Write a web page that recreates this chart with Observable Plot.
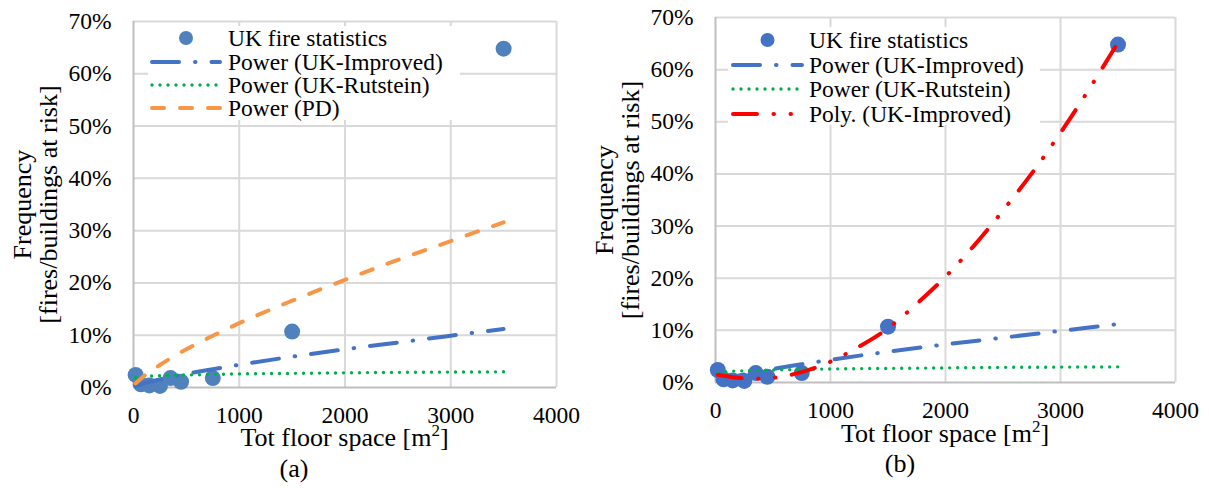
<!DOCTYPE html>
<html><head><meta charset="utf-8">
<script src="https://cdn.jsdelivr.net/npm/d3@7"></script>
<script src="https://cdn.jsdelivr.net/npm/@observablehq/plot@0.6"></script>
<style>
html,body{margin:0;padding:0;background:#fff;}
#wrap{position:relative;width:1209px;height:488px;overflow:hidden;}
#wrap svg{position:absolute;top:0;font-family:"Liberation Serif","Times New Roman",serif !important;}
#wrap svg text{font-family:"Liberation Serif","Times New Roman",serif !important;}
</style></head><body><div id="wrap"></div>
<script>
// ---- data ----
const xTicks = [0, 1000, 2000, 3000, 4000];
const xTickLabels = ["0", "1000", "2000", "3000", "4000"];
const yTicks = [0, 10, 20, 30, 40, 50, 60, 70];
const yTickLabels = ["0%", "10%", "20%", "30%", "40%", "50%", "60%", "70%"];

// UK fire statistics (floor space m2, frequency %)
const floorSpace = [20, 70, 150, 250, 350, 450, 750, 1500, 3500];
const fireFreq   = [2.4, 0.6, 0.4, 0.3, 1.8, 1.1, 1.8, 10.7, 64.8];

// trend lines
const trendX       = [20, 100, 250, 500, 750, 1000, 1500, 2000, 2500, 3000, 3500];
const powImproved  = [0.25, 0.8, 1.55, 2.6, 3.5, 4.35, 5.9, 7.3, 8.6, 9.9, 11.2];
const powRutstein  = [1.9, 2.1, 2.25, 2.4, 2.5, 2.6, 2.7, 2.8, 2.9, 2.95, 3.0];
const powPD        = [0.8, 2.2, 4.3, 7.3, 9.9, 12.3, 16.6, 20.6, 24.4, 28.0, 31.6];
const polyX        = [20, 100, 250, 400, 500, 750, 1000, 1250, 1500, 1750, 2000, 2250, 2500, 2750, 3000, 3250, 3500];
const polyImproved = [1.5, 1.2, 0.8, 0.7, 0.9, 2.0, 4.0, 6.9, 10.4, 15.1, 20.3, 26.3, 33.0, 40.1, 47.9, 56.3, 65.2];

const legendLabelsA = ["UK fire statistics", "Power (UK-Improved)", "Power (UK-Rutstein)", "Power (PD)"];
const legendLabelsB = ["UK fire statistics", "Power (UK-Improved)", "Power (UK-Rutstein)", "Poly. (UK-Improved)"];
const xTitle = "Tot floor space [m";
const yTitle = "Frequency\n[fires/buildings at risk]";
const captions = ["(a)", "(b)"];

// ---- helpers ----
const FONT = '"Liberation Serif","Times New Roman",serif';
const zip = (xs, ys) => xs.map((x, i) => ({x, y: ys[i]}));
const points = zip(floorSpace, fireFreq);

const STY = {
  improved: {stroke: "#4472c4", strokeWidth: 4, strokeDasharray: "27,16,0.5,16"},
  rutstein: {stroke: "#00b050", strokeWidth: 3.4, strokeDasharray: "0,8"},
  pd:       {stroke: "#f79646", strokeWidth: 4, strokeDasharray: "12,16"},
  poly:     {stroke: "#ff0000", strokeWidth: 4, strokeDasharray: "24,16.5,0.5,16.5,0.5,16.5"}
};

function panel(cfg) {
  const marks = [
    Plot.ruleY(yTicks.slice(1), {stroke: "#d9d9d9", strokeWidth: 2}),
    Plot.ruleX(xTicks.slice(1), {stroke: "#d9d9d9", strokeWidth: 2}),
    Plot.ruleY([0], {stroke: "#bfbfbf", strokeWidth: 2}),
    Plot.ruleX([0], {stroke: "#bfbfbf", strokeWidth: 2}),
    Plot.axisY(yTicks, {tickSize: 0, tickPadding: 22, fontSize: 23.5, fontFamily: FONT, label: null,
      tickFormat: d => yTickLabels[yTicks.indexOf(d)]}),
    Plot.axisX(xTicks, {tickSize: 0, tickPadding: 19, fontSize: 23.5, fontFamily: FONT, label: null,
      tickFormat: d => xTickLabels[xTicks.indexOf(d)]}),
    Plot.dot(points, {x: "x", y: "y", r: 8, fill: cfg.pointColor, stroke: null}),
    ...cfg.lines.map(l => Plot.line(zip(l.xs, l.ys), {x: "x", y: "y", curve: "monotone-x",
      strokeLinecap: "round", ...l.style})),
    Plot.text([yTitle], {text: d => d, frameAnchor: "left", textAnchor: "middle", lineAnchor: "middle",
      rotate: -90, dx: -98, fontSize: 26, fontFamily: FONT, lineHeight: 1.0, fill: "#000"})
  ];
  const svg = Plot.plot({
    width: cfg.width, height: 488,
    marginLeft: cfg.ml, marginRight: cfg.mr, marginTop: cfg.mt, marginBottom: cfg.mb,
    x: {domain: [0, 4000]},
    y: {domain: [0, 70]},
    style: {background: "transparent", overflow: "visible"},
    marks
  });
  svg.style.fontFamily = FONT;
  svg.style.color = "#000";
  const s = d3.select(svg);
  // legend
  const lg = s.append("g").attr("text-anchor", "start");
  lg.append("rect").attr("x", cfg.lgX).attr("y", cfg.lgY).attr("width", cfg.lgW).attr("height", cfg.lgH).attr("fill", "#fff");
  cfg.legendRows.forEach((row, i) => {
    const y = cfg.rowsY[i];
    if (row.type === "dot") {
      lg.append("circle").attr("cx", (cfg.swX1 + cfg.swX2) / 2).attr("cy", y).attr("r", 7).attr("fill", cfg.pointColor);
    } else {
      lg.append("line").attr("x1", cfg.swX1).attr("x2", cfg.swX2).attr("y1", y).attr("y2", y)
        .attr("stroke", row.style.stroke).attr("stroke-width", row.style.strokeWidth)
        .attr("stroke-dasharray", row.style.strokeDasharray).attr("stroke-linecap", "round");
    }
    lg.append("text").attr("x", cfg.txX).attr("y", y).attr("dy", "0.35em").attr("text-anchor", "start")
      .style("font-family", FONT).attr("font-size", 23.5).attr("fill", "#000").text(row.label);
  });
  // x title with superscript
  const t = s.append("text").attr("x", cfg.titleX).attr("y", cfg.titleY).attr("text-anchor", "middle")
    .style("font-family", FONT).attr("font-size", 26).attr("fill", "#000");
  t.append("tspan").text(xTitle);
  t.append("tspan").attr("dy", -10).attr("font-size", 17).text("2");
  t.append("tspan").attr("dy", 10).text("]");
  s.append("text").attr("x", cfg.capX).attr("y", cfg.capY).attr("text-anchor", "middle")
    .style("font-family", FONT).attr("font-size", 26).attr("fill", "#000").text(cfg.caption);
  svg.style.left = cfg.left + "px";
  return svg;
}

const wrap = document.getElementById("wrap");
wrap.appendChild(panel({
  left: 0, width: 600, ml: 133, mr: 44, mt: 21, mb: 101,
  pointColor: "#4f81bd",
  lines: [
    {xs: trendX, ys: powImproved, style: STY.improved},
    {xs: trendX, ys: powRutstein, style: STY.rutstein},
    {xs: trendX, ys: powPD, style: STY.pd}
  ],
  legendRows: [
    {type: "dot", label: legendLabelsA[0]},
    {type: "line", label: legendLabelsA[1], style: STY.improved},
    {type: "line", label: legendLabelsA[2], style: STY.rutstein},
    {type: "line", label: legendLabelsA[3], style: STY.pd}
  ],
  lgX: 148, lgY: 26, lgW: 312, lgH: 94, rowsY: [38, 62, 85, 108],
  swX1: 152, swX2: 220, txX: 228,
  titleX: 344.5, titleY: 446, capX: 294, capY: 477, caption: captions[0]
}));
wrap.appendChild(panel({
  left: 600, width: 609, ml: 115, mr: 34, mt: 17, mb: 106,
  pointColor: "#4472c4",
  lines: [
    {xs: trendX, ys: powImproved, style: STY.improved},
    {xs: trendX, ys: powRutstein, style: STY.rutstein},
    {xs: polyX, ys: polyImproved, style: STY.poly}
  ],
  legendRows: [
    {type: "dot", label: legendLabelsB[0]},
    {type: "line", label: legendLabelsB[1], style: STY.improved},
    {type: "line", label: legendLabelsB[2], style: STY.rutstein},
    {type: "line", label: legendLabelsB[3], style: STY.poly}
  ],
  lgX: 128, lgY: 27, lgW: 312, lgH: 98, rowsY: [40, 65, 89, 114],
  swX1: 133, swX2: 202, txX: 209,
  titleX: 345, titleY: 442, capX: 300, capY: 472, caption: captions[1]
}));
</script></body></html>
